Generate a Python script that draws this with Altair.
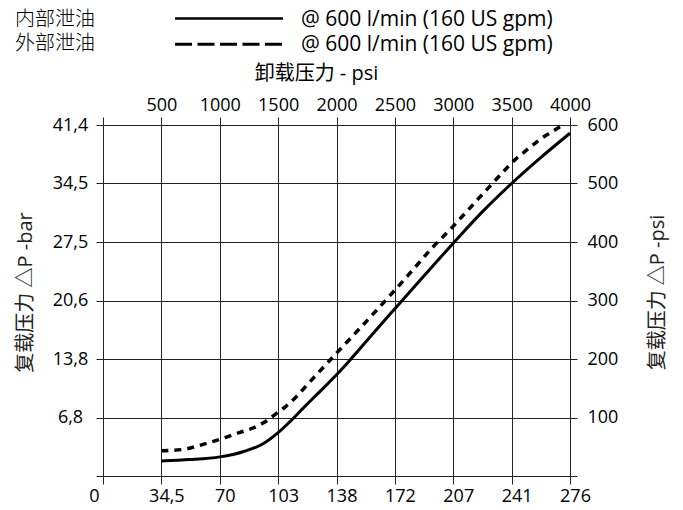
import altair as alt
import pandas as pd

# ---- data ----
# x: unloading pressure (bar), y: reload pressure ΔP (psi)
solid_bar = [34.5, 51.4, 69.1, 82.8, 94.6, 103.5, 110.5, 118.3, 126.3, 138, 145, 160, 172.5, 190, 207, 224, 241.5, 259, 276]
solid_psi = [25.8, 28, 32.7, 41.5, 55, 74, 93, 116, 139, 173, 195, 245, 286, 343, 398, 451, 500, 545, 586]

dash_bar = [34.5, 39.6, 49.5, 57.3, 65.2, 73.1, 80.5, 87.9, 95.1, 101.6, 108.1, 114.4, 120.4, 138, 152,
            167.6, 183.3, 194.2, 206, 216.8, 227.6, 238.5, 244.4, 250.3, 257.2, 265, 272]
dash_psi = [43, 43.6, 46.5, 52.4, 59.2, 66.6, 74.1, 81.2, 91.4, 105, 119, 136, 155, 210, 253,
            302, 353, 389, 424, 458, 492, 526, 543, 557, 573, 588, 600]

series_names = ["内部泄油", "外部泄油"]
flow_text = "@ 600 l/min (160 US gpm)"

bar_ticks = [0, 34.5, 69, 103.5, 138, 172.5, 207, 241.5, 276]
bar_labels = ["0", "34,5", "70", "103", "138", "172", "207", "241", "276"]
psi_top_labels = ["", "500", "1000", "1500", "2000", "2500", "3000", "3500", "4000"]
dp_ticks = [0, 100, 200, 300, 400, 500, 600]
dp_bar_labels = ["", "6,8", "13,8", "20,6", "27,5", "34,5", "41,4"]
dp_psi_labels = ["", "100", "200", "300", "400", "500", "600"]

df = pd.DataFrame(
    {
        "bar": solid_bar + dash_bar,
        "psi": solid_psi + dash_psi,
        "series": [series_names[0]] * len(solid_bar) + [series_names[1]] * len(dash_bar),
    }
)


def arr_expr(labels, step):
    return "[" + ",".join("'" + l + "'" for l in labels) + "][round(datum.value/" + str(step) + ")]"


GRID = "#222222"
NUM_FONT = "Open Sans"
CJK_FONT = "Noto Sans CJK SC"
MIX_FONT = "'Open Sans', 'Noto Sans CJK SC'"

xscale = alt.Scale(domain=[0, 276], nice=False, zero=True)
yscale = alt.Scale(domain=[0, 600], nice=False, zero=True)

common_tick = dict(ticks=True, tickColor=GRID, tickWidth=1, domain=False,
                   labelFont=NUM_FONT, labelFontSize=18, labelColor="black",
                   labelOverlap=False, labelFlush=False)

x_bottom = alt.X(
    "bar:Q",
    scale=xscale,
    axis=alt.Axis(
        orient="bottom", values=bar_ticks, labelExpr=arr_expr(bar_labels, 34.5),
        grid=True, gridColor=GRID, gridWidth=1, gridOpacity=1,
        tickSize=8, labelPadding=3,
        labelOffset={"condition": {"test": "datum.value == 0", "value": -9}, "value": 5},
        title="", **common_tick,
    ),
)
x_top = alt.X(
    "bar:Q",
    scale=xscale,
    axis=alt.Axis(
        orient="top", values=bar_ticks, labelExpr=arr_expr(psi_top_labels, 34.5),
        grid=False, tickSize=8, labelPadding=3,
        title="卸载压力 - psi", titleFont=MIX_FONT, titleFontSize=20, titleFontWeight="normal",
        titleColor="black", titleX=213, titleY=-52, titleAngle=0,
        titleAlign="center", titleBaseline="middle", **common_tick,
    ),
)
y_left = alt.Y(
    "psi:Q",
    scale=yscale,
    axis=alt.Axis(
        orient="left", values=dp_ticks, labelExpr=arr_expr(dp_bar_labels, 100),
        grid=True, gridColor=GRID, gridWidth=1, gridOpacity=1,
        tickSize=7, labelAlign="center", labelBaseline="middle", labelPadding=26,
        title="复载压力 △P -bar", titleFont=MIX_FONT, titleFontSize=20, titleFontWeight="normal",
        titleColor="#222222", titleAngle=270, titleX=-78, titleY=167,
        titleAlign="center", titleBaseline="middle", **common_tick,
    ),
)
y_right = alt.Y(
    "psi:Q",
    scale=yscale,
    axis=alt.Axis(
        orient="right", values=dp_ticks, labelExpr=arr_expr(dp_psi_labels, 100),
        grid=False, tickSize=7, labelAlign="left", labelBaseline="middle", labelPadding=10,
        title="复载压力 △P -psi", titleFont=MIX_FONT, titleFontSize=20, titleFontWeight="normal",
        titleColor="#222222", titleAngle=270, titleX=87, titleY=167,
        titleAlign="center", titleBaseline="middle", **common_tick,
    ),
)

solid = (
    alt.Chart(df)
    .transform_filter(alt.datum.series == series_names[0])
    .mark_line(color="black", strokeWidth=3, interpolate="monotone", clip=False)
    .encode(x=x_bottom, y=y_left, order="bar:Q")
)
dashed = (
    alt.Chart(df)
    .transform_filter(alt.datum.series == series_names[1])
    .mark_line(color="black", strokeWidth=3.5, strokeDash=[7, 6], interpolate="monotone", clip=False)
    .encode(x=x_top, y=y_right, order="bar:Q")
)

one = alt.Data(values=[{"k": 1}])


def label(txt, x, y, font, size, weight="normal"):
    return alt.Chart(one).mark_text(
        text=txt, font=font, fontSize=size, fontWeight=weight, align="left",
        baseline="middle", color="black", clip=False,
    ).encode(x=alt.value(x), y=alt.value(y))


leg_name1 = label(series_names[0], -88, -105.5, CJK_FONT, 20, 300)
leg_name2 = label(series_names[1], -88, -81.5, CJK_FONT, 20, 300)
leg_txt1 = label(flow_text, 198, -105, NUM_FONT, 21)
leg_txt2 = label(flow_text, 198, -80.5, NUM_FONT, 21)
leg_rule1 = alt.Chart(one).mark_rule(color="black", strokeWidth=2.6, clip=False).encode(
    x=alt.value(72), x2=alt.value(180), y=alt.value(-106.5)
)
leg_rule2 = alt.Chart(one).mark_rule(color="black", strokeWidth=3, strokeDash=[17, 5.5], clip=False).encode(
    x=alt.value(72), x2=alt.value(180), y=alt.value(-80.7)
)

chart = (
    alt.layer(solid, dashed, leg_rule1, leg_rule2, leg_name1, leg_name2, leg_txt1, leg_txt2)
    .resolve_axis(x="independent", y="independent")
    .properties(
        width=467,
        height=351,
        autosize=alt.AutoSizeParams(type="none"),
        padding={"left": 95, "top": 117, "right": 105, "bottom": 30},
        background="white",
    )
    .configure_view(stroke=None)
)

chart.save("out.html", embed_options={"renderer": "svg", "actions": False})
